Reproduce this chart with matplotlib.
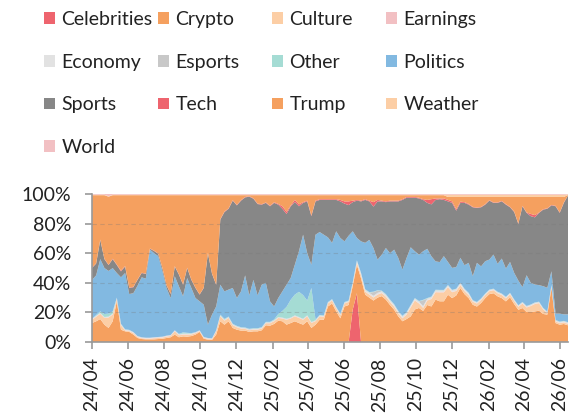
import numpy as np
import pandas as pd
import matplotlib
matplotlib.use('Agg')
import matplotlib.pyplot as plt
import matplotlib.dates as mdates
from matplotlib.patches import Patch

plt.rcParams['font.family'] = ['Lato', 'DejaVu Sans']

# weekly share of volume by category (percent), starting 2024-04-01
start_date = '2024-04-01'
n_weeks = 116

celebrities = [0] * 63 + [22, 33] + [0] * 51

crypto = [
    12.8, 14, 15.5, 11.7, 9.5, 14, 27.5, 8.3, 7.2, 6.8, 5, 2.7, 2, 1.8, 1.8, 1.8, 2, 2.2, 2.7, 3.2,
    5, 3.2, 3.8, 3.6, 4, 5, 6.8, 2.2, 1.6, 1.4,
    5, 14, 11.7, 14, 9.5, 8.3, 7.7, 7.7, 6.8, 7.2, 7.2, 7.9, 11.3, 11, 12.2, 14.4, 14, 11.7, 12.8, 14,
    12.8, 11.7, 14, 9.5, 11.7, 15, 15, 24,
    26, 20.7, 16, 24, 25, 16, 19, 43, 32, 30, 28, 30, 31, 28.6, 25, 21.8, 17.3, 14, 15.5, 17.3,
    22, 23, 21, 25, 24, 28.6, 27.5, 27.5,
    32, 29.7, 31.5, 36.5, 32.4, 29.7, 25.2, 24, 26.4, 29.7, 32.4, 33, 30.9, 29.7, 27.5, 30.2, 25.7,
    21.8, 23, 20.3, 20.3, 20.7, 21.2, 19, 18.5, 36.5, 12.8, 11.7, 12.2, 11.3,
]

culture = [
    2.2, 3, 3.5, 4.5, 7, 4.5, 1.5, 3, 0.5, 0.5, 1, 0.6, 0.5, 0.4, 0.4, 0.7, 0.7, 0.7, 0.9, 0.8,
    2.2, 1.3, 1.2, 1.4, 1, 0.9, 0.4, 0.5, 0.4, 0.4,
    2.2, 3.3, 2.7, 2.2, 1.8, 1.6, 1.3, 1.1, 1.1, 1.1, 1.1, 1.1, 1.3, 1.6, 1.8, 1.8, 1.8, 3.3, 3, 3.3,
    3.4, 3.3, 3.3, 3.3, 2.3, 2.3, 2, 2,
    2, 2, 2, 2, 2, 1.5, 1.5, 2, 2, 2, 2, 2, 2, 2, 2, 2, 2, 2, 3, 6, 6, 3, 2, 3, 5, 5, 6, 6,
    5, 4, 3, 2, 2, 2, 2, 2, 2, 2, 2, 2, 2, 2, 2, 2, 2, 2, 3, 3, 4, 5, 5, 3, 1, 1, 1, 1, 1, 1,
]

earnings = [0.2] * n_weeks

economy = [0.3] * 64 + [1.0] * 28 + [0.5] * 24

esports = [0.2] * 68 + [2.5, 1.5] + [0.2] * 10 + [4] + [0.2] * 35

other = [
    0, 0.5, 1, 2, 2, 1.5, 0.3, 0.3, 0.2, 0.2, 0, 0, 0, 0, 0, 0, 0, 0, 0, 0,
    0, 0.3, 0.8, 0.5, 0.3, 0, 0, 0, 0, 0,
    0, 0.5, 0.5, 0.3, 0.3, 0.3, 0.3, 0.3, 0.3, 0.3, 0.3, 0.3, 0.3, 0.3, 0.5, 2, 4.5, 8, 12, 14,
    17, 16, 10, 23, 0.5, 0.3, 0.3, 0.3,
] + [0.3] * 28 + [0.2] * 30

politics = [
    26.3, 26.8, 35.3, 31.1, 28.8, 29.3, 16.6, 31.4, 38, 24.2, 26.3, 34, 40.5, 39.9, 59.5, 56.8,
    54.6, 44.4, 32.2, 25, 36.5, 32.1, 24.4, 37, 30.5, 23.1, 19.6, 21.8, 9, 16,
    16.1, 20.2, 18.6, 18.2, 24.2, 18.8, 24.2, 35.2, 22.6, 32.7, 22.2, 28.7, 26.4, 13.9, 8.8, 10.8,
    13.2, 15, 14.7, 20.2, 27.4, 40.8, 32, 15.7, 57.3, 56, 54.5, 43.7,
    38, 51.1, 51.3, 41, 43.8, 34.3, 15.1, 21.3, 31.3, 35.3, 29.5, 20.6, 24.3, 31.2, 31.3, 36.9,
    35.8, 31.2, 36.6, 39, 31.6, 31.3, 32.8, 33.3, 27.2, 19.2, 18.8, 22.8,
    15.6, 14.9, 14.6, 16.9, 16, 20.3, 16.3, 26.5, 21.7, 21.9, 20.3, 23.1, 18.9, 23.7, 19.1, 20.9,
    18, 16.7, 10.1, 20.8, 14.7, 12.1, 11.2, 14.7, 16.1, 9.3, 4.3, 5.4, 4.4, 5.3,
]

sports = [
    8, 8, 13, 6, 4, 6, 5.4, 4, 4.4, 4.1, 4, 4, 2.9, 3.2, 0.6, 1.5, 1.5, 2, 1.8, 2.7,
    6.6, 7.9, 7.8, 6.8, 5.5, 6.8, 4.5, 11.3, 48.3, 27.5,
    14.7, 44, 53.6, 54.6, 59, 62.6, 61.3, 52.7, 66.7, 54.8, 61.7, 54.1, 54, 64.2, 70, 63.1, 55.8,
    47.8, 48.5, 42.4, 30.4, 21.5, 35, 32.8, 22.5, 21.7, 23.5, 25.3,
    29, 21.2, 24.7, 25.5, 20.7, 19.7, 25.2, 27, 29, 26, 28, 39.4, 36, 31, 35, 32.6, 38.2, 47.1,
    40.7, 33.5, 36.2, 38, 34.7, 31, 35.1, 41.5, 42.5, 38,
    41, 44, 38.2, 37.2, 42.2, 39.4, 46.6, 37.1, 40, 38.3, 39.9, 35, 41.3, 38.7, 43.3, 37, 41.2,
    38.3, 54.7, 42.2, 45.1, 45.5, 48.9, 51.8, 53.5, 44.6, 72.7, 68.2, 75.5, 80.5,
]

tech = [
    0.2, 0.2, 0.2, 0.2, 0.2, 0.3, 0.3, 0.5, 0.3, 0.3, 0.3, 0.2, 0.2, 0.2, 0.2, 0.2, 0.2, 0.2,
    0.2, 0.2, 0.2, 0.2, 0.2, 0.2, 0.2, 0.2, 0.2, 0.2, 0.2, 0.2,
    0.2, 0.3, 0.3, 0.3, 0.3, 0.3, 0.3, 0.3, 0.3, 0.3, 0.3, 0.3, 0.3, 0.4, 0.4, 0.5, 1.7, 1.5,
    0.5, 1.4, 1.3, 0.5, 0.5, 0.5, 0.5, 0.5, 0.5, 0.5,
    0.5, 0.5, 1, 1.5, 2.5, 1, 0.5, 0.5, 0.5, 0.5, 3, 1, 0.5, 0.5, 0.5, 0.5, 0.5, 0.5, 0.5, 0.5,
    0.5, 0.5, 0.5, 2, 3.5, 1, 0.5, 1,
    1, 1, 1, 0.8, 0.5, 0.5, 0.3, 0.3, 0.3, 0.3, 0.3, 0.3, 0.3, 0.3, 0.3, 0.3, 0.3, 0.3, 0.3,
    0.3, 1.5, 1.5, 0.3, 0.3, 0.3, 0.3, 0.3, 0.3, 0.3, 0.1,
]

trump = [
    49, 46, 30, 43, 46, 43, 46.9, 51, 47.9, 62.4, 61.9, 57, 52.4, 53, 36, 37.5, 39.5, 49, 60.7,
    66.6, 48, 53.5, 60.3, 49, 57, 62.5, 67, 62.5, 39, 53,
    60.3, 16.2, 11.1, 8.9, 3.4, 6.6, 3.4, 1.2, 0.7, 2.1, 5.7, 6.1, 4.9, 7.1, 4.8, 5.9, 7.5, 11.2,
    7, 3.2, 6.2, 4.7, 3.7, 13.7, 3.7, 2.7, 2.7, 2.7,
    2.7, 2.7, 3.2, 4.2, 4.2, 3.7, 3.2, 3.7, 2.7, 3.7, 4.7, 3.2, 3.7, 4.2, 3.7, 3.7, 3.7, 2.7,
    1.2, 1.2, 1.2, 1.7, 2.7, 3.2, 2.7, 2.2, 2.2, 2.2,
    2, 3, 8.3, 3.2, 3.5, 4.7, 6.7, 7.2, 6.7, 4.9, 2.2, 3.7, 3.7, 2.7, 4.9, 6.7, 9.9, 18, 6, 10.5,
    11.5, 12.3, 10.5, 8.3, 7.7, 5.4, 6, 10.5, 3.7, 0.2,
]

weather = [0.3] * 86 + [1.5] * 29 + [0.5]

world = [0.5] * 4 + [1.5] + [0.5] * 110 + [0.2]

categories = ['Celebrities', 'Crypto', 'Culture', 'Earnings', 'Economy', 'Esports', 'Other',
              'Politics', 'Sports', 'Tech', 'Trump', 'Weather', 'World']
colors = ['#EE646E', '#F5A05F', '#FCCEA5', '#F2C0C3', '#E2E2E2', '#C8C8C8', '#A5DCD4',
          '#82B9E1', '#878787', '#EE646E', '#F5A05F', '#FCCEA5', '#F2C0C3']

series = [celebrities, crypto, culture, earnings, economy, esports, other,
          politics, sports, tech, trump, weather, world]

dates = pd.date_range(start_date, periods=n_weeks, freq='7D')
vals = np.array(series, dtype=float)
share = vals / vals.sum(axis=0) * 100

fig = plt.figure(figsize=(5.81, 4.18), dpi=100)
ax = fig.add_axes([92 / 581, 1 - 342 / 418, 476 / 581, 148 / 418])

ax.stackplot(dates, share, colors=colors, labels=categories, linewidth=0)

ax.set_ylim(0, 100)
ax.set_xlim(dates[0], dates[-1])
ax.set_yticks([0, 20, 40, 60, 80, 100])
ax.set_yticklabels([f'{v}%' for v in range(0, 101, 20)])
for v in [20, 40, 60, 80]:
    ax.axhline(v, color='#777777', alpha=0.3, linewidth=0.8, linestyle=(0, (4, 3)), zorder=5)

ax.xaxis.set_major_locator(mdates.MonthLocator(bymonth=[2, 4, 6, 8, 10, 12]))
ax.xaxis.set_major_formatter(mdates.DateFormatter('%y/%m'))
plt.setp(ax.get_xticklabels(), rotation=90)

for side in ['top', 'right']:
    ax.spines[side].set_visible(False)
for side in ['left', 'bottom']:
    ax.spines[side].set_color('#999999')
    ax.spines[side].set_linewidth(1.2)
ax.tick_params(axis='both', colors='#999999', labelcolor='#222222', labelsize=14, length=5, width=1.2)
ax.tick_params(axis='y', pad=10)
ax.tick_params(axis='x', pad=6)

# legend: row-major order, one legend per column
handles = {c: Patch(facecolor=col, edgecolor='none') for c, col in zip(categories, colors)}
columns = [['Celebrities', 'Economy', 'Sports', 'World'],
           ['Crypto', 'Esports', 'Tech'],
           ['Culture', 'Other', 'Trump'],
           ['Earnings', 'Politics', 'Weather']]
col_x = [44, 158, 272, 386]
for names, x in zip(columns, col_x):
    leg = fig.legend([handles[n] for n in names], names, loc='upper left',
                     bbox_to_anchor=(x / 581, 1 - 11 / 418), frameon=False,
                     fontsize=14, handlelength=0.55, handleheight=0.55,
                     handletextpad=0.35, labelspacing=1.32, borderpad=0, borderaxespad=0)
    for t in leg.get_texts():
        t.set_color('#222222')

fig.savefig('out.png', dpi=100)
